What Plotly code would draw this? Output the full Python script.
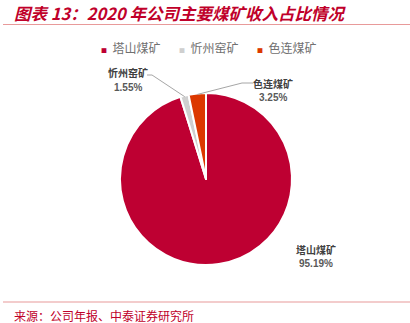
import math
import plotly.graph_objects as go

W, H = 410, 323

# Revenue share of each coal mine, 2020 (%)
mines = ["塔山煤矿", "忻州窑矿", "色连煤矿"]
shares = [95.19, 1.55, 3.25]
colors = ["#BE0032", "#CFCFCF", "#DC3800"]

CJK = "Noto Sans CJK SC"


def px(x):
    return x / W


def py(y):
    return 1 - y / H


# Pie geometry in pixels
cx, cy, r = 206, 179, 86

fig = go.Figure(
    go.Pie(
        labels=mines,
        values=shares,
        marker=dict(colors=colors, line=dict(color="white", width=2)),
        sort=False,
        direction="clockwise",
        rotation=0,
        textinfo="none",
        hoverinfo="label+percent",
        showlegend=False,
        domain=dict(x=[px(cx - r), px(cx + r)], y=[py(cy + r), py(cy - r)]),
    )
)

annotations = []
shapes = []

# Title and rules
annotations.append(dict(
    text="<b><i>图表 13：2020 年公司主要煤矿收入占比情况</i></b>",
    x=px(12), y=py(13), xref="paper", yref="paper",
    xanchor="left", yanchor="middle", showarrow=False,
    font=dict(family=CJK, size=16.5, color="#C0002A"),
))
shapes.append(dict(type="line", xref="paper", yref="paper",
                   x0=px(3), x1=px(410), y0=py(24.5), y1=py(24.5),
                   line=dict(color="#E89A9A", width=1.2)))
shapes.append(dict(type="line", xref="paper", yref="paper",
                   x0=px(3), x1=px(410), y0=py(302), y1=py(302),
                   line=dict(color="#E89A9A", width=1.2)))
annotations.append(dict(
    text="来源：公司年报、中泰证券研究所",
    x=px(12), y=py(315), xref="paper", yref="paper",
    xanchor="left", yanchor="middle", showarrow=False,
    font=dict(family=CJK, size=12, color="#C0002A"),
))

# Legend row
legend_x = [99, 177, 255]
for name, col, lx in zip(mines, colors, legend_x):
    annotations.append(dict(
        text=f'<span style="color:{col};font-size:6px">■</span>  {name}',
        x=px(lx), y=py(48), xref="paper", yref="paper",
        xanchor="left", yanchor="middle", showarrow=False,
        font=dict(family=CJK, size=12, color="#707070"),
    ))

# Outside labels with leader lines for the thin slices
total = sum(shares)
cum = 0.0
mid_angles = []
for v in shares:
    mid_angles.append((cum + v / 2) / total * 2 * math.pi)
    cum += v


def edge_point(theta, rad):
    return cx + rad * math.sin(theta), cy - rad * math.cos(theta)


name_font = dict(family=CJK, size=10, color="#404040")
pct_font = dict(family="Liberation Sans", size=10, color="#595959")


def add_label(i, x, y_name, y_pct):
    annotations.append(dict(
        text=f"<b>{mines[i]}</b>",
        x=px(x), y=py(y_name), xref="paper", yref="paper",
        xanchor="center", yanchor="middle", showarrow=False,
        font=name_font,
    ))
    annotations.append(dict(
        text=f"<b>{shares[i]:.2f}%</b>",
        x=px(x), y=py(y_pct), xref="paper", yref="paper",
        xanchor="center", yanchor="middle", showarrow=False,
        font=pct_font,
    ))


# 忻州窑矿: leader goes up-left
ex, ey = edge_point(mid_angles[1], r - 1)
shapes.append(dict(type="path", xref="paper", yref="paper",
                   path=f"M {px(ex)} {py(ey)} L {px(152)} {py(75)} L {px(147)} {py(75)}",
                   line=dict(color="#A6A6A6", width=1)))
add_label(1, 128, 73, 87)

# 色连煤矿: leader goes up-right
ex, ey = edge_point(mid_angles[2], r - 1)
shapes.append(dict(type="path", xref="paper", yref="paper",
                   path=f"M {px(ex)} {py(ey)} L {px(242)} {py(83)} L {px(253)} {py(83)}",
                   line=dict(color="#A6A6A6", width=1)))
add_label(2, 273, 83, 97)

# 塔山煤矿 label at lower right
add_label(0, 316, 249, 263)

fig.update_layout(
    width=W, height=H,
    margin=dict(l=0, r=0, t=0, b=0),
    paper_bgcolor="white", plot_bgcolor="white",
    annotations=annotations, shapes=shapes,
    showlegend=False,
)

fig.write_html("out.html", config=dict(displayModeBar=False))
